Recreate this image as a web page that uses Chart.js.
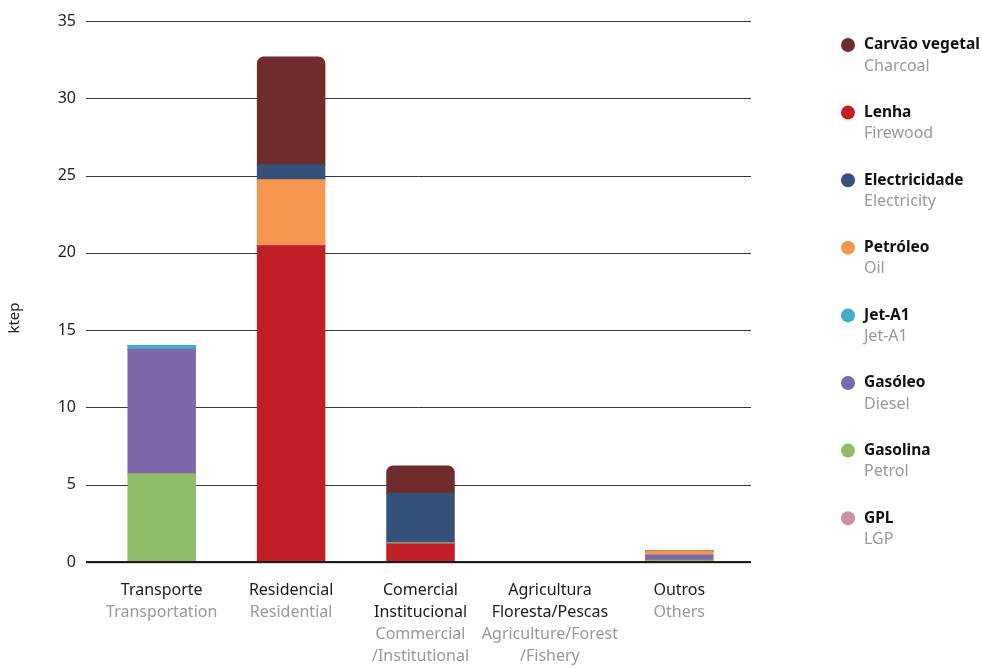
<!DOCTYPE html>
<html>
<head>
<meta charset="utf-8">
<script src="https://cdn.jsdelivr.net/npm/chart.js@4.4.1/dist/chart.umd.min.js"></script>
<style>
  html, body { margin: 0; padding: 0; background: #fff; }
  #wrap { width: 982px; height: 668px; position: relative; }
</style>
</head>
<body>
<div id="wrap"><canvas id="energy-chart"></canvas></div>
<script>
// sectors (Portuguese / English label lines)
const sectorsPt = [['Transporte'], ['Residencial'], ['Comercial', 'Institucional'], ['Agricultura', 'Floresta/Pescas'], ['Outros']];
const sectorsEn = [['Transportation'], ['Residential'], ['Commercial', '/Institutional'], ['Agriculture/Forest', '/Fishery'], ['Others']];

// fuels, in legend order
const fuelsPt = ['Carvão vegetal', 'Lenha', 'Electricidade', 'Petróleo', 'Jet-A1', 'Gasóleo', 'Gasolina', 'GPL'];
const fuelsEn = ['Charcoal', 'Firewood', 'Electricity', 'Oil', 'Jet-A1', 'Diesel', 'Petrol', 'LGP'];
const fuelColors = ['#722b2c', '#c01f26', '#34527a', '#f69751', '#41aec9', '#7d68ac', '#91bc68', '#cf8fa4'];

// consumption by sector, ktep
const charcoal    = [0,    6.97, 1.77, 0, 0];
const firewood    = [0,   20.45, 1.15, 0, 0];
const electricity = [0,    0.97, 3.21, 0, 0];
const oil         = [0,    4.27, 0,    0, 0.28];
const jetA1       = [0.25, 0,    0,    0, 0];
const diesel      = [8.05, 0,    0,    0, 0.33];
const petrol      = [5.7,  0,    0.08, 0, 0.1];
const lpg         = [0,    0,    0,    0, 0];
const fuelValues = [charcoal, firewood, electricity, oil, jetA1, diesel, petrol, lpg];

// stacking from the bottom up (indices into the fuel arrays)
const stackOrder = [1, 7, 6, 5, 4, 3, 2, 0];

const yMax = 35;
const yStep = 5;
const FONT = '"Noto Sans", sans-serif';

const datasets = stackOrder.map(i => ({
  label: fuelsPt[i],
  data: fuelValues[i],
  backgroundColor: fuelColors[i],
  borderWidth: 0,
  borderRadius: 7,
  borderSkipped: 'start',
  inflateAmount: 0.6
}));

const extras = {
  id: 'extras',
  beforeDatasetsDraw(c) {
    const { ctx, scales: { y } } = c;
    ctx.save();
    ctx.strokeStyle = '#3a3a3a';
    ctx.lineWidth = 1;
    y.ticks.forEach(t => {
      if (t.value === 0) return;
      const py = Math.round(y.getPixelForValue(t.value)) + 0.5;
      ctx.beginPath();
      ctx.moveTo(86, py);
      ctx.lineTo(751, py);
      ctx.stroke();
    });
    ctx.restore();
  },
  afterDatasetsDraw(c) {
    const { ctx, scales: { y } } = c;
    const py = Math.round(y.getPixelForValue(0));
    ctx.save();
    ctx.fillStyle = '#1c1c1c';
    ctx.fillRect(86, py - 1, 665, 2);
    ctx.fillStyle = '#d6d6d6';
    ctx.fillRect(86, py + 1, 665, 1);
    ctx.restore();
  },
  afterDraw(c) {
    const { ctx, scales: { x } } = c;
    ctx.save();
    ctx.textBaseline = 'middle';

    // axis title
    ctx.save();
    ctx.translate(15, 318);
    ctx.rotate(-Math.PI / 2);
    ctx.textAlign = 'center';
    ctx.fillStyle = '#222';
    ctx.font = '15px ' + FONT;
    ctx.fillText('ktep', 0, 0);
    ctx.restore();

    // two-colour sector labels
    ctx.textAlign = 'center';
    ctx.font = '16px ' + FONT;
    sectorsPt.forEach((pt, i) => {
      const px = x.getPixelForValue(i);
      const lines = pt.map(s => [s, '#1a1a1a']).concat(sectorsEn[i].map(s => [s, '#999']));
      lines.forEach(([txt, col], k) => {
        ctx.fillStyle = col;
        ctx.fillText(txt, px, 590 + k * 22.3);
      });
    });

    // legend
    ctx.textAlign = 'left';
    fuelsPt.forEach((name, i) => {
      const ly = 45 + i * 67.6;
      ctx.fillStyle = fuelColors[i];
      ctx.beginPath();
      ctx.arc(848, ly, 7, 0, Math.PI * 2);
      ctx.fill();
      ctx.fillStyle = '#111';
      ctx.font = '700 15.5px ' + FONT;
      ctx.fillText(name, 864, ly);
      ctx.fillStyle = '#999';
      ctx.font = '16px ' + FONT;
      ctx.fillText(fuelsEn[i], 864, ly + 21);
    });
    ctx.restore();
  }
};

new Chart(document.getElementById('energy-chart'), {
  type: 'bar',
  data: { labels: sectorsPt.map(l => l.join(' ')), datasets },
  options: {
    responsive: true,
    maintainAspectRatio: false,
    animation: false,
    layout: { padding: { top: 21, right: 238, bottom: 0, left: 0 } },
    datasets: { bar: { categoryPercentage: 0.52, barPercentage: 1 } },
    plugins: { legend: { display: false }, tooltip: { enabled: false } },
    scales: {
      x: {
        stacked: true,
        grid: { display: false },
        border: { display: false },
        ticks: { display: false },
        afterFit(s) { s.height = 106; }
      },
      y: {
        stacked: true,
        min: 0,
        max: yMax,
        grid: { display: false, drawTicks: true, tickLength: 17 },
        border: { display: false },
        ticks: { stepSize: yStep, padding: 4, color: '#222', font: { family: FONT, size: 16 } },
        afterFit(s) { s.width = 97; }
      }
    }
  },
  plugins: [extras]
});
</script>
</body>
</html>
